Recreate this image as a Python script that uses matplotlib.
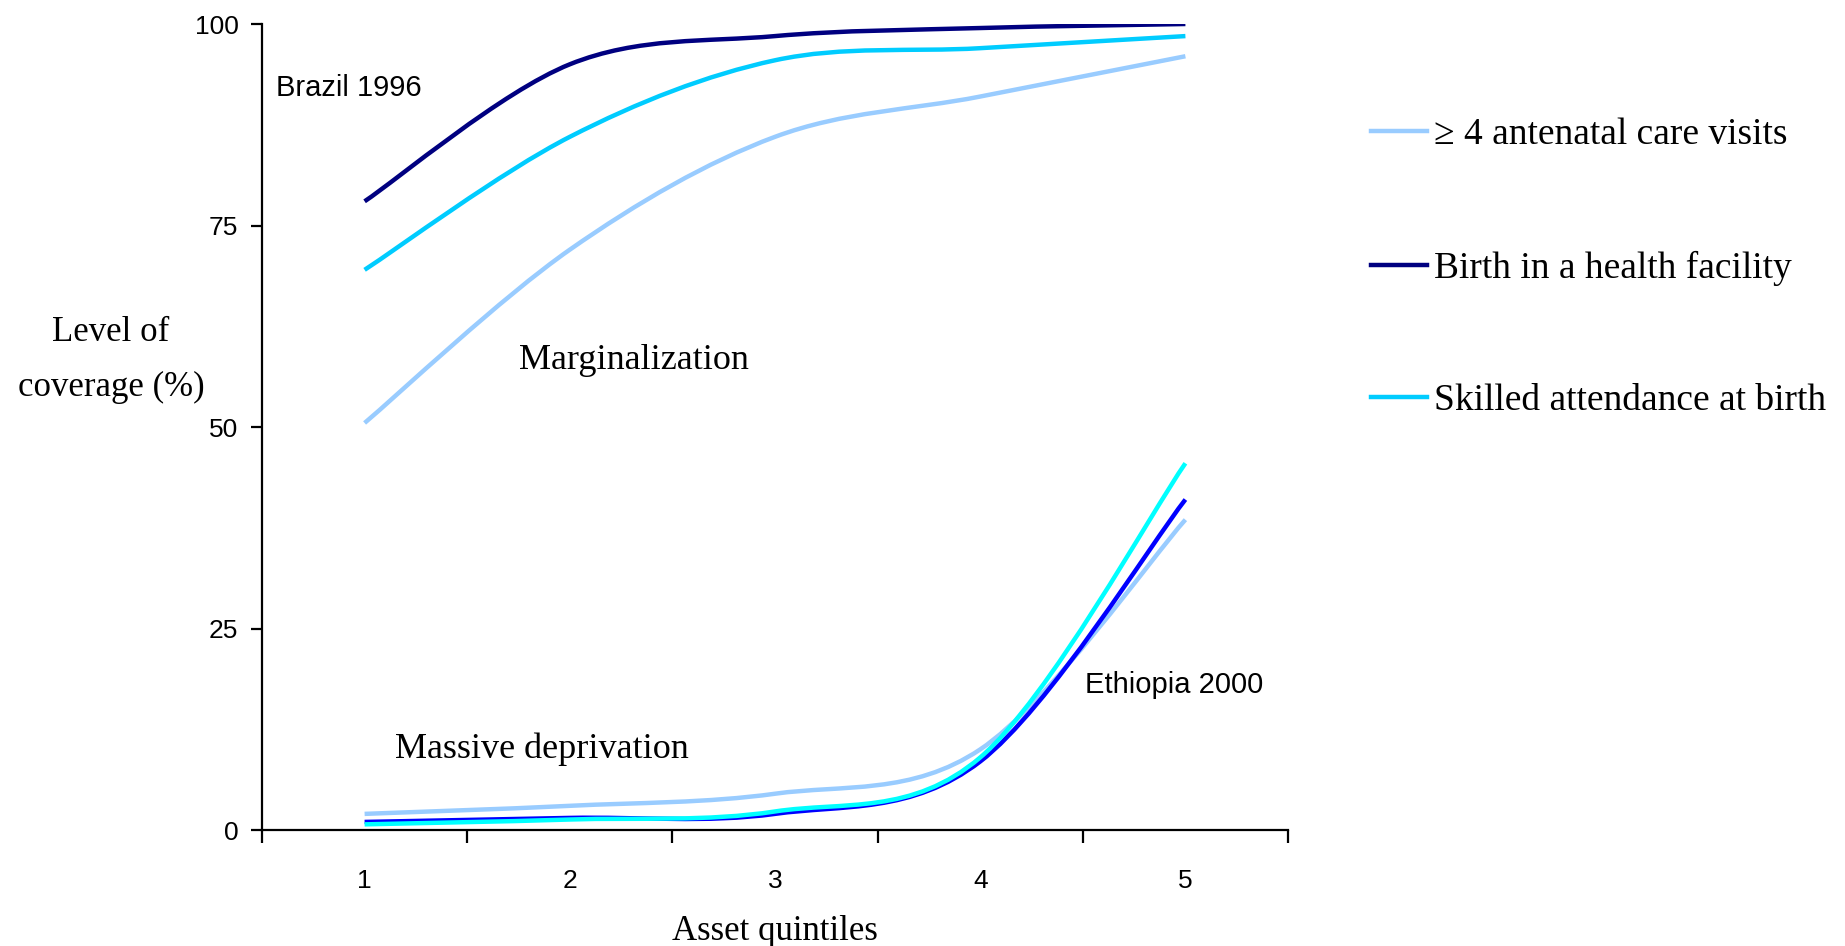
import matplotlib
matplotlib.use("Agg")
import matplotlib.pyplot as plt
from matplotlib.path import Path
from matplotlib.patches import PathPatch
from matplotlib.lines import Line2D

quintiles = [1, 2, 3, 4, 5]

# Brazil 1996
brazil_anc = [50.5, 72.0, 86.0, 91.0, 96.0]
brazil_facility = [78.0, 95.0, 98.5, 99.5, 100.0]
brazil_skilled = [69.5, 86.0, 95.5, 97.0, 98.5]

# Ethiopia 2000
ethiopia_anc = [2.0, 3.0, 4.5, 10.0, 38.5]
ethiopia_facility = [1.0, 1.5, 2.0, 8.5, 41.0]
ethiopia_skilled = [0.7, 1.3, 2.3, 9.0, 45.5]

series_labels = ["\u2265 4 antenatal care visits", "Birth in a health facility",
                 "Skilled attendance at birth"]

c_anc = "#99ccff"
c_fac = "#000080"
c_fac2 = "#0000ff"
c_sk = "#00ccff"
c_sk2 = "#00ffff"

serif = "Liberation Serif"
sans = "Liberation Sans"


def smooth_path(xs, ys):
    # bezier segments through every point, tangents from the neighbours
    pts = list(zip(xs, ys))
    n = len(pts)
    verts = [pts[0]]
    codes = [Path.MOVETO]
    for i in range(n - 1):
        p0 = pts[i - 1] if i > 0 else pts[i]
        p1 = pts[i]
        p2 = pts[i + 1]
        p3 = pts[i + 2] if i + 2 < n else pts[i + 1]
        c1 = (p1[0] + (p2[0] - p0[0]) / 6, p1[1] + (p2[1] - p0[1]) / 6)
        c2 = (p2[0] - (p3[0] - p1[0]) / 6, p2[1] - (p3[1] - p1[1]) / 6)
        verts += [c1, c2, p2]
        codes += [Path.CURVE4] * 3
    return Path(verts, codes)


def draw_curve(ax, ys, color):
    patch = PathPatch(smooth_path(quintiles, ys), facecolor="none",
                      edgecolor=color, lw=3.2, capstyle="butt")
    ax.add_patch(patch)


fig = plt.figure(figsize=(18.45, 9.46), dpi=100)
ax = fig.add_axes([262 / 1845, 116 / 946, 1026 / 1845, 806 / 946])

draw_curve(ax, brazil_anc, c_anc)
draw_curve(ax, brazil_skilled, c_sk)
draw_curve(ax, brazil_facility, c_fac)
draw_curve(ax, ethiopia_anc, c_anc)
draw_curve(ax, ethiopia_facility, c_fac2)
draw_curve(ax, ethiopia_skilled, c_sk2)

ax.set_xlim(0.5, 5.5)
ax.set_ylim(0, 100)
for s in ["top", "right"]:
    ax.spines[s].set_visible(False)
for s in ["left", "bottom"]:
    ax.spines[s].set_linewidth(1.6)
    ax.spines[s].set_color("black")

ax.set_yticks([0, 25, 50, 75, 100])
ax.set_yticklabels(["0", "25", "50", "75", "100"], fontfamily=sans, fontsize=19)
ax.tick_params(axis="y", length=8, width=1.6, pad=9)

# category axis: ticks between quintiles, labels centred on them
ax.set_xticks([0.5, 1.5, 2.5, 3.5, 4.5, 5.5])
ax.set_xticklabels([])
ax.set_xticks(quintiles, minor=True)
ax.set_xticklabels([str(q) for q in quintiles], minor=True,
                   fontfamily=sans, fontsize=19)
ax.tick_params(axis="x", which="major", length=9, width=1.6)
ax.tick_params(axis="x", which="minor", length=0, pad=28)

ax.set_xlabel("Asset quintiles", fontfamily=serif, fontsize=25, labelpad=16)
fig.text(111 / 1845, 1 - 360 / 946, "Level of\ncoverage (%)", ha="center",
         va="center", fontfamily=serif, fontsize=25, linespacing=1.85)

ax.text(0.57, 92, "Brazil 1996", fontfamily=sans, fontsize=21, va="center")
ax.text(1.75, 58.2, "Marginalization", fontfamily=serif, fontsize=26, va="center")
ax.text(1.15, 10.0, "Massive deprivation", fontfamily=serif, fontsize=26, va="center")
ax.text(4.51, 18, "Ethiopia 2000", fontfamily=sans, fontsize=21, va="center")

handles = [Line2D([], [], color=c, lw=3.2) for c in (c_anc, c_fac, c_sk)]
leg = fig.legend(handles, series_labels, loc="upper left",
                 bbox_to_anchor=(1337 / 1845, 1 - 84 / 946), frameon=False,
                 prop={"family": serif, "size": 27}, handlelength=1.5,
                 handletextpad=0.2, labelspacing=2.62)

fig.savefig("out.png", dpi=100, facecolor="white")
